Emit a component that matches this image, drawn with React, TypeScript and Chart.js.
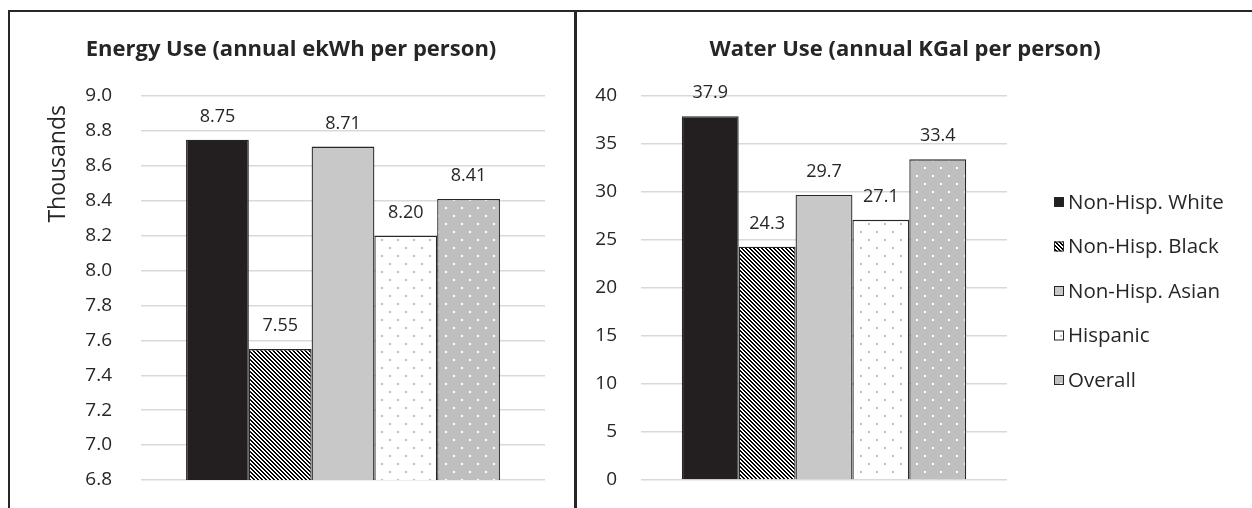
import React, { useEffect, useRef } from 'react';
import { Chart, registerables } from 'chart.js';

Chart.register(...registerables);

// ---------- data ----------
const categories = [''];
const seriesNames = ['Non-Hisp. White', 'Non-Hisp. Black', 'Non-Hisp. Asian', 'Hispanic', 'Overall'];
const energyValues = [8.75, 7.55, 8.71, 8.2, 8.41];
const waterValues = [37.9, 24.3, 29.7, 27.1, 33.4];
const energyTickLabels = ['6.8', '7.0', '7.2', '7.4', '7.6', '7.8', '8.0', '8.2', '8.4', '8.6', '8.8', '9.0'];
const waterTickLabels = ['0', '5', '10', '15', '20', '25', '30', '35', '40'];
const energyTitle = 'Energy Use (annual ekWh per person)';
const waterTitle = 'Water Use (annual KGal per person)';
const energyAxisTitle = 'Thousands';

// ---------- styles ----------
const FONT = '"Open Sans", sans-serif';
const TEXT = '#262626';
const EDGE = '#262626';
const GRID = '#d9d9d9';

function tile(ctx: CanvasRenderingContext2D, size: number, draw: (c: CanvasRenderingContext2D) => void): CanvasPattern {
  const c = document.createElement('canvas');
  c.width = size;
  c.height = size;
  const t = c.getContext('2d')!;
  draw(t);
  return ctx.createPattern(c, 'repeat')!;
}

function makeFills(ctx: CanvasRenderingContext2D): (string | CanvasPattern)[] {
  const hatch = tile(ctx, 4, (t) => {
    t.fillStyle = '#ffffff';
    t.fillRect(0, 0, 4, 4);
    t.fillStyle = '#000000';
    for (let y = 0; y < 4; y++) {
      for (let x = 0; x < 4; x++) {
        const d = (((x - y) % 4) + 4) % 4;
        if (d === 0 || d === 1) t.fillRect(x, y, 1, 1);
      }
    }
  });
  const dotsWhite = tile(ctx, 16, (t) => {
    t.fillStyle = '#ffffff';
    t.fillRect(0, 0, 16, 16);
    t.fillStyle = '#bdbdbd';
    t.fillRect(3, 3, 2, 2);
    t.fillRect(11, 11, 2, 2);
  });
  const dotsGray = tile(ctx, 16, (t) => {
    t.fillStyle = '#bfbfbf';
    t.fillRect(0, 0, 16, 16);
    t.fillStyle = '#ffffff';
    t.fillRect(3, 3, 2, 2);
    t.fillRect(11, 11, 2, 2);
  });
  return ['#231f20', hatch, '#c8c8c8', dotsWhite, dotsGray];
}

type PanelCfg = {
  values: number[];
  tickLabels: string[];
  decimals: number;
  title: string;
  titleX: number;
  titleY: number;
  axisTitle?: string;
  axisTitleX?: number;
  axisTitleTop?: number;
  padding: { left: number; right: number; top: number; bottom: number };
  axisWidth: number;
  tickPad: number;
  legend?: { x: number; y0: number; dy: number };
};

function buildChart(canvas: HTMLCanvasElement, cfg: PanelCfg): Chart {
  const ctx = canvas.getContext('2d')!;
  const fills = makeFills(ctx);
  const tickValues = cfg.tickLabels.map((s) => parseFloat(s));

  const decor = {
    id: 'decor',
    afterDatasetsDraw(chart: any) {
      const c = chart.ctx as CanvasRenderingContext2D;
      c.save();
      // value labels
      c.fillStyle = TEXT;
      c.font = `18px ${FONT}`;
      c.textAlign = 'center';
      c.textBaseline = 'middle';
      chart.data.datasets.forEach((ds: any, i: number) => {
        const meta = chart.getDatasetMeta(i);
        meta.data.forEach((el: any, j: number) => {
          c.fillText(Number(ds.data[j]).toFixed(cfg.decimals), el.x, el.y - 23);
        });
      });
      // title
      c.font = `bold 22px ${FONT}`;
      c.fillText(cfg.title, cfg.titleX, cfg.titleY);
      // axis title
      if (cfg.axisTitle) {
        c.save();
        c.translate(cfg.axisTitleX!, cfg.axisTitleTop!);
        c.rotate(-Math.PI / 2);
        c.font = `23px ${FONT}`;
        c.textAlign = 'right';
        c.textBaseline = 'middle';
        c.fillText(cfg.axisTitle, 0, 0);
        c.restore();
      }
      // legend
      if (cfg.legend) {
        const lg = cfg.legend;
        chart.data.datasets.forEach((ds: any, i: number) => {
          const y = lg.y0 + i * lg.dy;
          c.fillStyle = ds.backgroundColor;
          c.fillRect(lg.x, y - 5, 10, 10);
          c.strokeStyle = EDGE;
          c.lineWidth = 1;
          c.strokeRect(lg.x + 0.5, y - 4.5, 9, 9);
          c.fillStyle = TEXT;
          c.font = `20.5px ${FONT}`;
          c.textAlign = 'left';
          c.textBaseline = 'middle';
          c.fillText(ds.label, lg.x + 14, y + 1);
        });
      }
      c.restore();
    },
  };

  return new Chart(canvas, {
    type: 'bar',
    data: {
      labels: categories,
      datasets: seriesNames.map((name, i) => ({
        label: name,
        data: [cfg.values[i]],
        backgroundColor: fills[i] as any,
        borderColor: EDGE,
        borderWidth: 1.3,
        barPercentage: 1,
        categoryPercentage: 0.777,
      })),
    },
    options: {
      responsive: false,
      animation: false,
      layout: { padding: cfg.padding },
      plugins: {
        legend: { display: false },
        tooltip: { enabled: false },
        title: { display: false },
      },
      scales: {
        x: { display: false },
        y: {
          min: tickValues[0],
          max: tickValues[tickValues.length - 1],
          afterBuildTicks: (scale: any) => {
            scale.ticks = tickValues.map((v) => ({ value: v }));
          },
          afterFit: (scale: any) => {
            scale.width = cfg.axisWidth;
            scale.paddingTop = 0;
            scale.paddingBottom = 0;
          },
          ticks: {
            padding: cfg.tickPad,
            color: TEXT,
            font: { family: FONT, size: 19 },
            callback: (v: any) => {
              const idx = tickValues.findIndex((t) => Math.abs(t - Number(v)) < 1e-6);
              return idx >= 0 ? cfg.tickLabels[idx] : '';
            },
          },
          grid: { color: GRID, lineWidth: 1.5, drawTicks: false },
          border: { display: false },
        },
      },
    },
    plugins: [decor],
  });
}

export default function App() {
  const leftRef = useRef<HTMLCanvasElement>(null);
  const rightRef = useRef<HTMLCanvasElement>(null);

  useEffect(() => {
    const a = buildChart(leftRef.current!, {
      values: energyValues,
      tickLabels: energyTickLabels,
      decimals: 2,
      title: energyTitle,
      titleX: 281,
      titleY: 38,
      axisTitle: energyAxisTitle,
      axisTitleX: 48,
      axisTitleTop: 93,
      padding: { left: 0, right: 29, top: 84, bottom: 28 },
      axisWidth: 131,
      tickPad: 29,
    });
    const b = buildChart(rightRef.current!, {
      values: waterValues,
      tickLabels: waterTickLabels,
      decimals: 1,
      title: waterTitle,
      titleX: 328,
      titleY: 38,
      padding: { left: 0, right: 245, top: 84, bottom: 28 },
      axisWidth: 64,
      tickPad: 24,
      legend: { x: 477, y0: 190, dy: 44.5 },
    });
    return () => {
      a.destroy();
      b.destroy();
    };
  }, []);

  return (
    <div style={{ position: 'absolute', left: 0, top: 0, width: 1252, height: 508, background: '#ffffff', overflow: 'hidden' }}>
      <div style={{ position: 'absolute', left: 8, top: 10, width: 1244, height: 2, background: EDGE }} />
      <div style={{ position: 'absolute', left: 8, top: 10, width: 2, height: 498, background: EDGE }} />
      <div style={{ position: 'absolute', left: 574, top: 10, width: 3, height: 498, background: EDGE }} />
      <canvas ref={leftRef} width={564} height={496} style={{ position: 'absolute', left: 10, top: 12, width: 564, height: 496 }} />
      <canvas ref={rightRef} width={675} height={496} style={{ position: 'absolute', left: 577, top: 12, width: 675, height: 496 }} />
    </div>
  );
}
